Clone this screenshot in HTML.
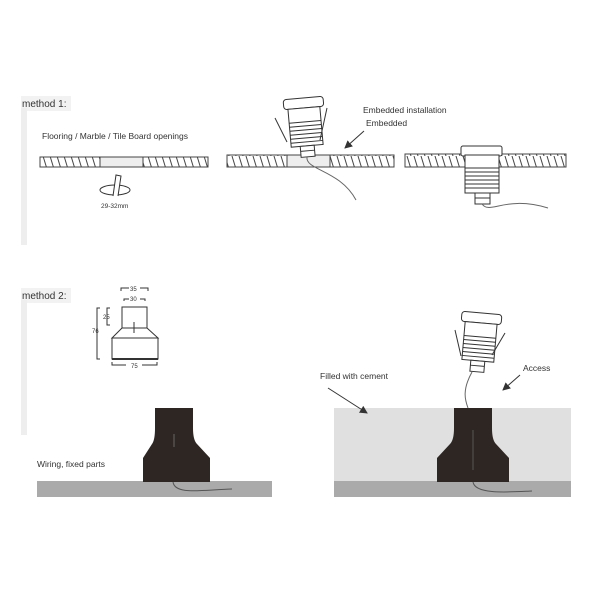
<!DOCTYPE html>
<html><head><style>
html,body{margin:0;padding:0;background:#fff;}
svg{display:block;}
text{font-family:"Liberation Sans",sans-serif;fill:#333;}
</style></head><body>
<svg width="600" height="600" viewBox="0 0 600 600" xmlns="http://www.w3.org/2000/svg">
<defs>
<pattern id="h" width="7" height="13" patternUnits="userSpaceOnUse">
<rect width="7" height="13" fill="#fff"/>
<line x1="1" y1="0" x2="5" y2="13" stroke="#444" stroke-width="1"/>
</pattern>
<g id="lamp" fill="#fff" stroke="#333" stroke-width="1">
<rect x="-20" y="0" width="40" height="10" rx="3"/>
<rect x="-16" y="10" width="32" height="38"/>
<line x1="-16" y1="24" x2="16" y2="24"/><line x1="-16" y1="28" x2="16" y2="28"/>
<line x1="-16" y1="32" x2="16" y2="32"/><line x1="-16" y1="36" x2="16" y2="36"/>
<line x1="-16" y1="40" x2="16" y2="40"/><line x1="-16" y1="44" x2="16" y2="44"/>
<rect x="-7" y="48" width="14" height="11"/>
<line x1="-7" y1="53" x2="7" y2="53"/>
</g>
<marker id="ar" markerWidth="8" markerHeight="8" refX="7" refY="4" orient="auto"><path d="M0,0 L8,4 L0,8 z" fill="#333"/></marker>
</defs>

<!-- method 1 -->
<rect x="21" y="96" width="50" height="15" fill="#f2f2f2"/>
<rect x="21" y="108" width="6" height="137" fill="#eee"/>
<text x="22" y="107" font-size="10">method 1:</text>
<text x="42" y="139" font-size="8.5">Flooring / Marble / Tile Board openings</text>

<rect x="40" y="157" width="60" height="10" fill="url(#h)" stroke="#444"/>
<rect x="100" y="157" width="43" height="10" fill="#eee" stroke="#444"/>
<rect x="143" y="157" width="65" height="10" fill="url(#h)" stroke="#444"/>
<ellipse cx="115" cy="190" rx="15" ry="5" fill="none" stroke="#333"/>
<path d="M113,196 L116,175 L121,176 L118,196" fill="#fff" stroke="#333"/>
<text x="101" y="208" font-size="6.5" fill="#555">29-32mm</text>

<rect x="227" y="155" width="60" height="12" fill="url(#h)" stroke="#444"/>
<rect x="287" y="155" width="43" height="12" fill="#eee" stroke="#444"/>
<rect x="330" y="155" width="64" height="12" fill="url(#h)" stroke="#444"/>
<g transform="translate(303,98) rotate(-5)"><use href="#lamp"/></g>
<line x1="275" y1="118" x2="287" y2="142" stroke="#333"/>
<line x1="327" y1="108" x2="320" y2="140" stroke="#333"/>
<path d="M307,157 C305,170 340,170 356,200" fill="none" stroke="#666"/>
<text x="363" y="113" font-size="8.5">Embedded installation</text>
<text x="366" y="126" font-size="8.5">Embedded</text>
<line x1="364" y1="131" x2="345" y2="148" stroke="#333" marker-end="url(#ar)"/>

<rect x="405" y="154" width="161" height="13" fill="url(#h)" stroke="#444"/>
<g transform="translate(482,146)">
<rect x="-21" y="0" width="41" height="10" rx="2" fill="#fff" stroke="#333"/>
<rect x="-17" y="9" width="34" height="38" fill="#fff" stroke="#333"/>
<line x1="-17" y1="22" x2="17" y2="22" stroke="#333"/><line x1="-17" y1="26" x2="17" y2="26" stroke="#333"/>
<line x1="-17" y1="30" x2="17" y2="30" stroke="#333"/><line x1="-17" y1="34" x2="17" y2="34" stroke="#333"/>
<line x1="-17" y1="38" x2="17" y2="38" stroke="#333"/><line x1="-17" y1="42" x2="17" y2="42" stroke="#333"/>
<rect x="-7" y="47" width="15" height="11" fill="#fff" stroke="#333"/>
<line x1="-7" y1="52" x2="8" y2="52" stroke="#333"/>
</g>
<path d="M482,204 C490,215 505,195 548,208" fill="none" stroke="#666"/>

<!-- method 2 -->
<rect x="21" y="288" width="50" height="15" fill="#f2f2f2"/>
<rect x="21" y="300" width="6" height="135" fill="#eee"/>
<text x="22" y="299" font-size="10">method 2:</text>

<g stroke="#333" fill="none" stroke-width="1">
<rect x="122" y="307" width="25" height="21"/>
<path d="M122,328 L112,338 L158,338 L147,328"/>
<rect x="112" y="338" width="46" height="21"/>
<line x1="112" y1="359" x2="158" y2="359" stroke-width="2"/>
<line x1="134" y1="322" x2="134" y2="333"/>
<path d="M121,291 v-3 h8 M140,288 h8 v3"/>
<path d="M124,301 v-2 h5 M140,299 h5 v2"/>
<path d="M110,308 h-3 v17 h3"/>
<path d="M100,308 h-3 v51 h3"/>
<path d="M112,362 v3 h14 M142,365 h15 v-3"/>
</g>
<text x="130" y="291" font-size="6">35</text>
<text x="130" y="301" font-size="6">30</text>
<text x="103" y="319" font-size="6">25</text>
<text x="92" y="333" font-size="6">76</text>
<text x="131" y="368" font-size="6">75</text>

<text x="37" y="467" font-size="8.5">Wiring, fixed parts</text>
<rect x="37" y="481" width="235" height="16" fill="#aaa"/>
<path d="M155,408 L193,408 L193,428 Q193,440 197,444 L210,458 L210,482 L143,482 L143,458 L152,444 Q155,440 155,428 Z" fill="#2e2623"/>
<line x1="174" y1="434" x2="174" y2="447" stroke="#666"/>
<path d="M173,482 C175,495 200,490 232,489" fill="none" stroke="#555"/>

<rect x="334" y="408" width="237" height="74" fill="#e0e0e0"/>
<rect x="334" y="481" width="237" height="16" fill="#aaa"/>
<path d="M454,408 L492,408 L492,428 Q492,440 496,444 L509,458 L509,482 L437,482 L437,458 L450,444 Q454,440 454,428 Z" fill="#2e2623"/>
<line x1="473" y1="430" x2="473" y2="470" stroke="#555"/>
<path d="M473,482 C475,495 510,492 532,491" fill="none" stroke="#555"/>
<g transform="translate(482,313) rotate(5)"><use href="#lamp"/></g>
<line x1="455" y1="330" x2="461" y2="356" stroke="#333"/>
<line x1="505" y1="333" x2="492" y2="355" stroke="#333"/>
<path d="M472,372 C462,390 465,400 468,408" fill="none" stroke="#666"/>
<text x="320" y="379" font-size="8.5">Filled with cement</text>
<line x1="328" y1="388" x2="367" y2="413" stroke="#333" marker-end="url(#ar)"/>
<text x="523" y="371" font-size="8.5">Access</text>
<line x1="520" y1="375" x2="503" y2="390" stroke="#333" marker-end="url(#ar)"/>
</svg>
</body></html>
